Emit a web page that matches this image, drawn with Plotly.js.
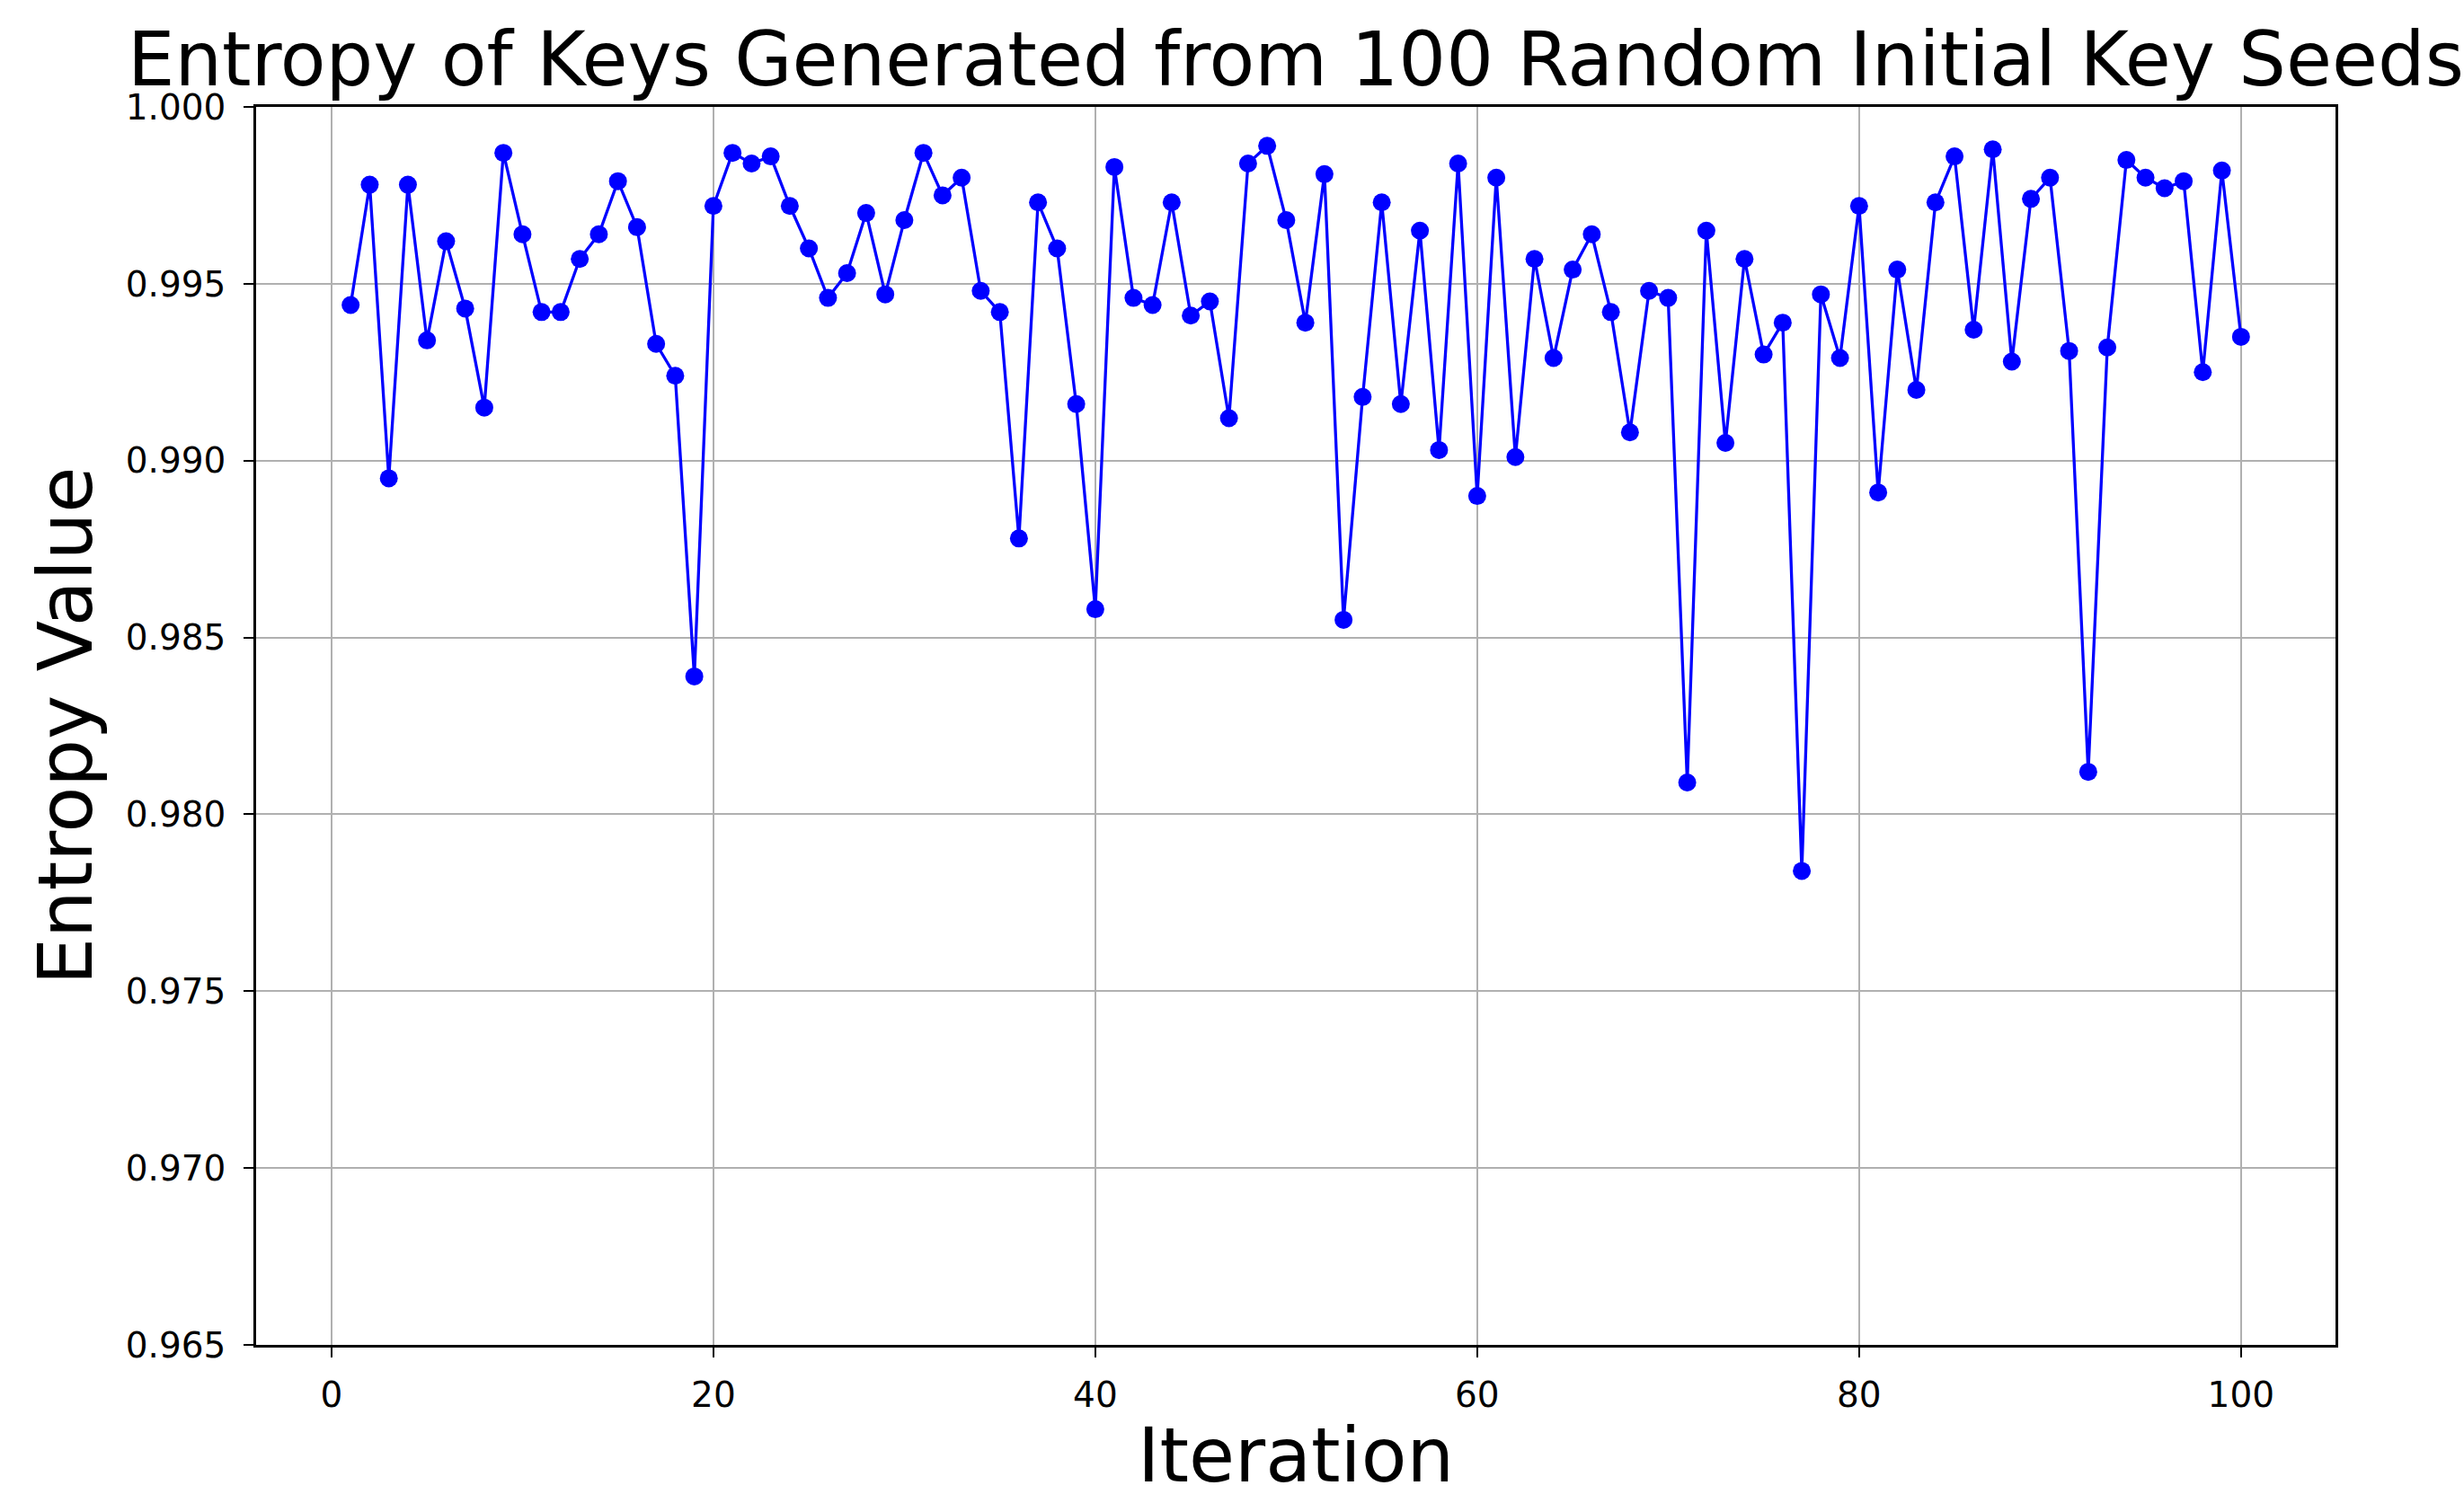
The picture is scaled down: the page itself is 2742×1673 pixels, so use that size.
<!DOCTYPE html>
<html>
<head>
<meta charset="utf-8">
<script src="https://cdn.plot.ly/plotly-3.0.1.min.js"></script>
<style>
  html, body { margin: 0; padding: 0; background: #ffffff; }
  #chart { width: 2742px; height: 1673px; }
</style>
</head>
<body>
<div id="chart"></div>
<script>
const chartTitle = "Entropy of Keys Generated from 100 Random Initial Key Seeds";
const xLabel = "Iteration";
const yLabel = "Entropy Value";

const iterations = [
  1, 2, 3, 4, 5, 6, 7, 8, 9, 10,
  11, 12, 13, 14, 15, 16, 17, 18, 19, 20,
  21, 22, 23, 24, 25, 26, 27, 28, 29, 30,
  31, 32, 33, 34, 35, 36, 37, 38, 39, 40,
  41, 42, 43, 44, 45, 46, 47, 48, 49, 50,
  51, 52, 53, 54, 55, 56, 57, 58, 59, 60,
  61, 62, 63, 64, 65, 66, 67, 68, 69, 70,
  71, 72, 73, 74, 75, 76, 77, 78, 79, 80,
  81, 82, 83, 84, 85, 86, 87, 88, 89, 90,
  91, 92, 93, 94, 95, 96, 97, 98, 99, 100
];

const entropy = [
  0.9944, 0.9978, 0.9895, 0.9978, 0.9934, 0.9962, 0.9943, 0.9915, 0.9987, 0.9964,
  0.9942, 0.9942, 0.9957, 0.9964, 0.9979, 0.9966, 0.9933, 0.9924, 0.9839, 0.9972,
  0.9987, 0.9984, 0.9986, 0.9972, 0.9960, 0.9946, 0.9953, 0.9970, 0.9947, 0.9968,
  0.9987, 0.9975, 0.9980, 0.9948, 0.9942, 0.9878, 0.9973, 0.9960, 0.9916, 0.9858,
  0.9983, 0.9946, 0.9944, 0.9973, 0.9941, 0.9945, 0.9912, 0.9984, 0.9989, 0.9968,
  0.9939, 0.9981, 0.9855, 0.9918, 0.9973, 0.9916, 0.9965, 0.9903, 0.9984, 0.9890,
  0.9980, 0.9901, 0.9957, 0.9929, 0.9954, 0.9964, 0.9942, 0.9908, 0.9948, 0.9946,
  0.9809, 0.9965, 0.9905, 0.9957, 0.9930, 0.9939, 0.9784, 0.9947, 0.9929, 0.9972,
  0.9891, 0.9954, 0.9920, 0.9973, 0.9986, 0.9937, 0.9988, 0.9928, 0.9974, 0.9980,
  0.9931, 0.9812, 0.9932, 0.9985, 0.9980, 0.9977, 0.9979, 0.9925, 0.9982, 0.9935
];

const xTicks = [0, 20, 40, 60, 80, 100];
const yTicks = [0.965, 0.970, 0.975, 0.980, 0.985, 0.990, 0.995, 1.000];
const yTickText = ["0.965", "0.970", "0.975", "0.980", "0.985", "0.990", "0.995", "1.000"];

const FONT = "DejaVu Sans, Liberation Sans, sans-serif";

const trace = {
  x: iterations,
  y: entropy,
  type: "scatter",
  mode: "lines+markers",
  line: { color: "#0000ff", width: 3.3 },
  marker: { color: "#0000ff", size: 20, line: { width: 0 } },
  hoverinfo: "x+y"
};

const axisCommon = {
  showline: true,
  linecolor: "#000000",
  linewidth: 2.5,
  mirror: true,
  ticks: "outside",
  ticklen: 11,
  tickwidth: 2,
  tickcolor: "#000000",
  showgrid: true,
  gridcolor: "#b0b0b0",
  gridwidth: 2,
  zeroline: false,
  tickfont: { family: FONT, size: 39, color: "#000000" }
};

const layout = {
  width: 2742,
  height: 1673,
  paper_bgcolor: "#ffffff",
  plot_bgcolor: "#ffffff",
  showlegend: false,
  margin: { l: 285, r: 143, t: 119, b: 176, pad: 0 },
  font: { family: FONT, color: "#000000" },
  title: {
    text: chartTitle,
    font: { family: FONT, size: 83, color: "#000000" },
    x: 0.5,
    xref: "paper",
    xanchor: "center",
    y: 0.978,
    yref: "container",
    yanchor: "top"
  },
  xaxis: Object.assign({}, axisCommon, {
    range: [-3.95, 104.95],
    tickmode: "array",
    tickvals: xTicks,
    ticktext: xTicks.map(String),
    ticklabelstandoff: 8,
    title: { text: xLabel, font: { family: FONT, size: 83, color: "#000000" }, standoff: 18 },
    automargin: false
  }),
  yaxis: Object.assign({}, axisCommon, {
    range: [0.965, 1.000],
    tickmode: "array",
    tickvals: yTicks,
    ticktext: yTickText,
    ticklabelstandoff: 12,
    title: { text: yLabel, font: { family: FONT, size: 83, color: "#000000" }, standoff: 10 },
    automargin: false
  })
};

Plotly.newPlot("chart", [trace], layout, { displayModeBar: false, responsive: false, staticPlot: false });
</script>
</body>
</html>
